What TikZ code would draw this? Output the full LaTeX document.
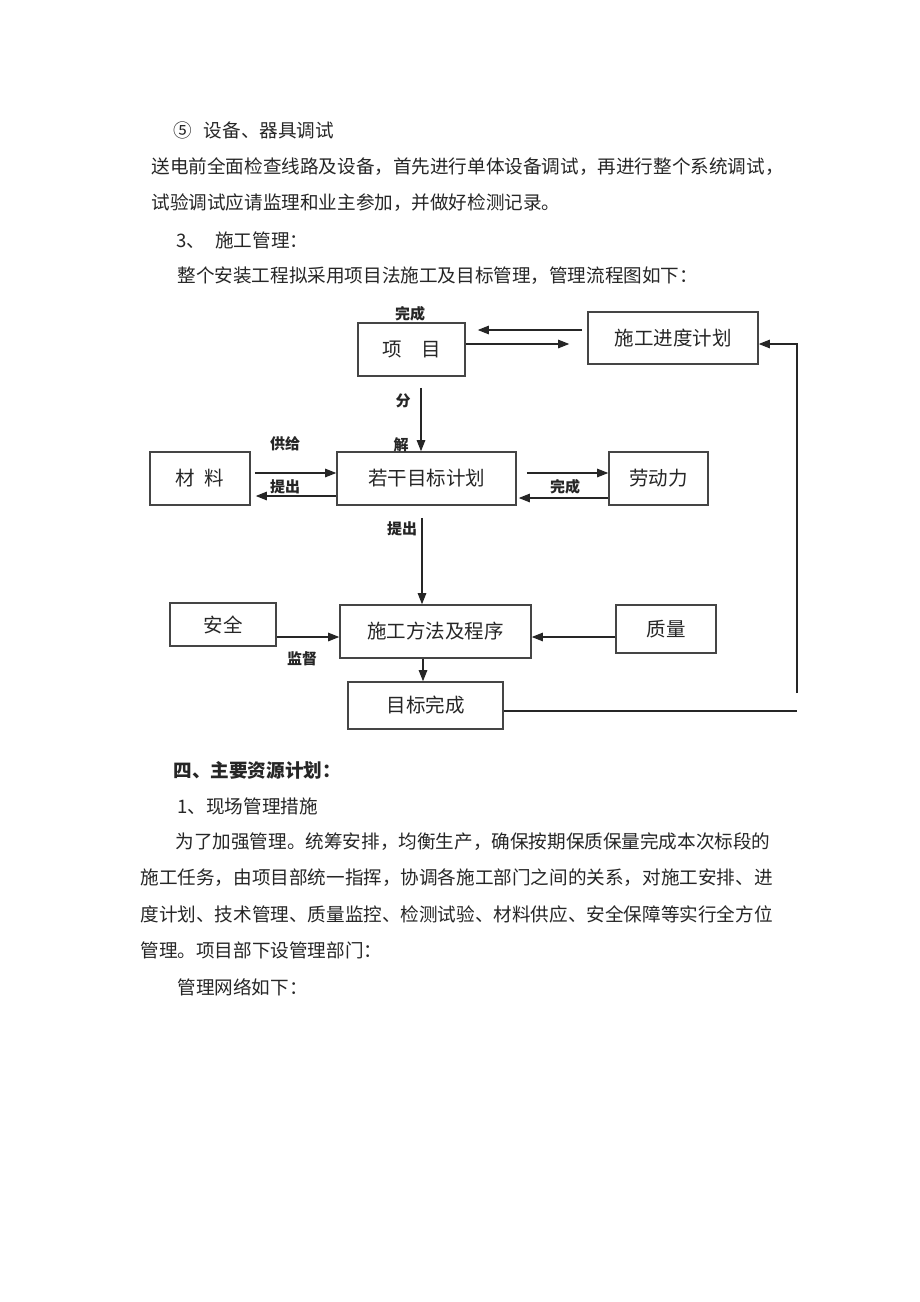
\documentclass[tikz,border=0pt]{standalone}
\usepackage{fontspec}
\setmainfont{Noto Sans CJK SC}
\usetikzlibrary{arrows.meta, calc}
\XeTeXlinebreaklocale "zh"
\XeTeXlinebreakskip=0pt plus 2pt
\definecolor{ink}{HTML}{262626}
\definecolor{boxline}{HTML}{454545}

\begin{document}
\begin{tikzpicture}[x=1pt, y=-1pt, thick,
  main/.style 2 args = {draw=boxline, line width=1.6pt, inner sep=0pt, minimum width=#1, minimum height=#2, text=ink, font=\fontsize{19.5}{19.5}\selectfont},
  lbl/.style = {inner sep=0pt, text=ink, font=\fontsize{15}{15}\selectfont\bfseries},
  para/.style = {anchor=west, inner sep=0pt, text=ink, font=\fontsize{18.6}{22}\selectfont},
  just/.style = {para, text width=#1, align=justify},
  arr/.style = {-{Triangle[length=11pt,width=8.5pt]}, line width=1.2pt, draw=ink}]

\useasboundingbox[fill=white] (0,0) rectangle (920,1302);

% text above the chart
\node[para] (t1) at (173,130) {⑤\hspace{12pt}设备、器具调试};
\node[just=639pt] (t2) at (151,167) {\noindent\parfillskip=0pt 送电前全面检查线路及设备，首先进行单体设备调试，再进行整个系统调试，};
\node[para] (t3) at (151,203) {试验调试应请监理和业主参加，并做好检测记录。};
\node[para] (t4) at (176,240) {3、\hspace{10pt}施工管理：};
\node[para] (t5) at (177,276) {整个安装工程拟采用项目法施工及目标管理，管理流程图如下：};

% chart
\node[main={107pt}{53pt}] (1) at (411.5,349.5) {项\hspace{1em}目};
\node[main={170pt}{52pt}] (2) at (673,338) {施工进度计划};
\node[main={179pt}{53pt}] (3) at (426.5,478.5) {若干目标计划};
\node[main={100pt}{53pt}] (4) at (200,478.5) {材\hspace{0.5em}料};
\node[main={99pt}{53pt}] (5) at (658.5,478.5) {劳动力};
\node[main={106pt}{43pt}] (6) at (223,624.5) {安全};
\node[main={191pt}{53pt}] (7) at (435.5,631.5) {施工方法及程序};
\node[main={100pt}{48pt}] (8) at (666,629) {质量};
\node[main={155pt}{47pt}] (9) at (425.5,705.5) {目标完成};

\node[lbl] (10) at (410,314) {完成};
\node[lbl] (11) at (403,401) {分};
\node[lbl] (12) at (401,445) {解};
\node[lbl] (13) at (285,444) {供给};
\node[lbl] (14) at (285,487) {提出};
\node[lbl] (15) at (565,487) {完成};
\node[lbl] (16) at (402,529) {提出};
\node[lbl] (17) at (302,659) {监督};

\draw[arr] ($(2.west)+(-5,-8)$) -- ($(1.east |- 2.west)+(12,-8)$);
\draw[arr] ($(1.east)+(0,-5.5)$) -- ($(2.west |- 1.east)+(-18,-5.5)$);
\draw[arr] ($(1.south)+(9.5,11)$) -- ($(3.north)+(-5.5,0)$);
\draw[arr] ($(4.east)+(4,-5.5)$) -- ($(3.west)+(0,-5.5)$);
\draw[arr] ($(3.west)+(0,17.5)$) -- ($(4.east)+(5,17.5)$);
\draw[arr] ($(3.east)+(10,-5.5)$) -- ($(5.west)+(0,-5.5)$);
\draw[arr] ($(5.west)+(0,19.5)$) -- ($(3.east)+(2,19.5)$);
\draw[arr] ($(3.south)+(-4.5,12)$) -- ($(7.north)+(-13.5,0)$);
\draw[arr] ($(6.east)+(0,12.5)$) -- ($(7.west)+(0,5.5)$);
\draw[arr] ($(8.west)+(0,8)$) -- ($(7.east)+(0,5.5)$);
\draw[arr] ($(7.south)+(-12.5,0)$) -- ($(9.north)+(-2.5,0)$);
\coordinate (r) at (797,693);
\draw[line width=1.2pt, draw=ink] ($(9.east)+(0,5.5)$) -- ($(r |- 9.east)+(0,5.5)$);
\draw[arr] (r) |- ($(2.east)+(0,6)$);

% text below the chart
\node[para, font=\fontsize{18.6}{22}\selectfont\bfseries] (t6) at (173,770) {四、主要资源计划：};
\node[para] (t7) at (177,806) {1、现场管理措施};
\node[just=598pt] (t8) at (175,842) {\noindent\parfillskip=0pt 为了加强管理。统筹安排，均衡生产，确保按期保质保量完成本次标段的};
\node[just=634pt] (t9) at (140,878) {\noindent\parfillskip=0pt 施工任务，由项目部统一指挥，协调各施工部门之间的关系，对施工安排、进};
\node[just=634pt] (t10) at (140,914) {\noindent\parfillskip=0pt 度计划、技术管理、质量监控、检测试验、材料供应、安全保障等实行全方位};
\node[para] (t11) at (140,950) {管理。项目部下设管理部门：};
\node[para] (t12) at (177,987) {管理网络如下：};
\end{tikzpicture}
\end{document}
